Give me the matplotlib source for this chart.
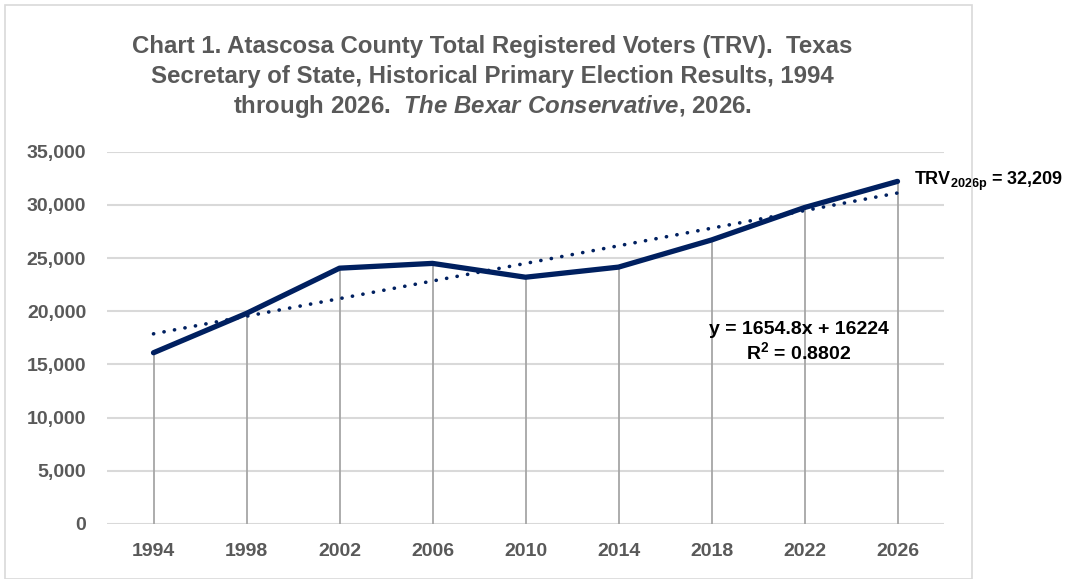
import matplotlib
matplotlib.use("Agg")
import matplotlib.pyplot as plt
from matplotlib.patches import Rectangle
from matplotlib.ticker import FuncFormatter

# Atascosa County total registered voters, primary election years
years = ["1994", "1998", "2002", "2006", "2010", "2014", "2018", "2022", "2026"]
voters = [16100, 19800, 24050, 24500, 23200, 24150, 26700, 29750, 32209]

# Linear trend as printed on the chart (x = 1..9)
trend_slope = 1654.8
trend_intercept = 16224
trend_r2 = 0.8802

title_lines = [
    "Chart 1. Atascosa County Total Registered Voters (TRV).  Texas",
    "Secretary of State, Historical Primary Election Results, 1994",
    r"through 2026.  $\mathit{The\ Bexar\ Conservative}$, 2026.",
]

navy = "#002060"
gray_text = "#595959"
grid_gray = "#D9D9D9"
drop_gray = "#A6A6A6"

plt.rcParams["font.family"] = ["Liberation Sans", "DejaVu Sans"]
plt.rcParams["mathtext.fontset"] = "custom"
plt.rcParams["mathtext.rm"] = "Liberation Sans:bold"
plt.rcParams["mathtext.bf"] = "Liberation Sans:bold"
plt.rcParams["mathtext.it"] = "Liberation Sans:italic:bold"

fig = plt.figure(figsize=(10.73, 5.79), dpi=100)
ax = fig.add_axes([107 / 1073, 1 - 524 / 579, (944 - 107) / 1073, (524 - 151.7) / 579])

# chart border
fig.patches.append(Rectangle((5 / 1073, 0), (972 - 5) / 1073, 1 - 5 / 579,
                             transform=fig.transFigure, fill=False,
                             edgecolor="#D9D9D9", linewidth=1.2))

x = list(range(len(years)))

# drop lines
ax.vlines(x, 0, voters, color=drop_gray, linewidth=1.3, zorder=2)

# trend line
trend = [trend_slope * (i + 1) + trend_intercept for i in x]
ax.plot(x, trend, color=navy, linewidth=2.6, linestyle=(0, (0.05, 2.9)),
        dash_capstyle="round", zorder=3)

# main series
ax.plot(x, voters, color=navy, linewidth=3.8, solid_capstyle="round",
        solid_joinstyle="round", zorder=4)

ax.set_xlim(-0.5, len(years) - 0.5)
ax.set_ylim(0, 35000)
ax.set_yticks(range(0, 35001, 5000))
ax.yaxis.set_major_formatter(FuncFormatter(lambda v, p: f"{int(v):,}"))
ax.set_xticks(x)
ax.set_xticklabels(years)
ax.grid(axis="y", color=grid_gray, linewidth=1.5, zorder=0)
ax.set_axisbelow(True)
for s in ax.spines.values():
    s.set_visible(False)
ax.tick_params(length=0, labelsize=14, labelcolor=gray_text)
ax.tick_params(axis="x", pad=14)
ax.tick_params(axis="y", pad=15)
for lbl in ax.get_xticklabels() + ax.get_yticklabels():
    lbl.set_fontweight("bold")

# title
for i, line in enumerate(title_lines):
    fig.text(492 / 1073, 1 - (46 + 30.5 * i) / 579, line, ha="center", va="center",
             fontsize=17.3, fontweight="bold", color=gray_text)

# trend equation
ax.text(6.94, 18330, f"y = {trend_slope}x + {trend_intercept}", ha="center", va="center",
        fontsize=14, fontweight="bold", color="black")
ax.text(6.94, 16170, f"R$^2$ = {trend_r2}", ha="center", va="center",
        fontsize=14, fontweight="bold", color="black")

# last value label
ax.text(8.18, voters[-1], r"TRV$_{\mathrm{2026p}}$ = " + f"{voters[-1]:,}", ha="left",
        va="center", fontsize=13, fontweight="bold", color="black", clip_on=False)

fig.savefig("out.png", dpi=100)
